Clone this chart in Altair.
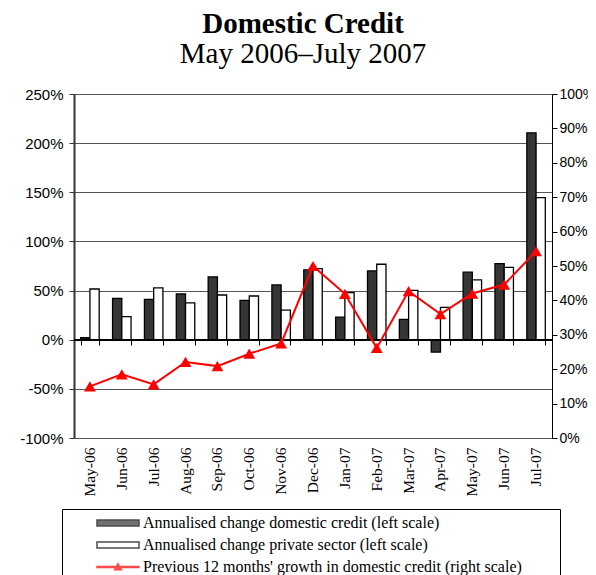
import altair as alt
import pandas as pd

months = ["May-06", "Jun-06", "Jul-06", "Aug-06", "Sep-06", "Oct-06", "Nov-06", "Dec-06",
          "Jan-07", "Feb-07", "Mar-07", "Apr-07", "May-07", "Jun-07", "Jul-07"]
dom_credit = [0.02, 0.42, 0.41, 0.465, 0.64, 0.40, 0.557, 0.71, 0.23, 0.70, 0.207, -0.126, 0.687, 0.775, 2.105]
priv_sector = [0.516, 0.235, 0.527, 0.374, 0.455, 0.445, 0.302, 0.724, 0.48, 0.768, 0.503, 0.33, 0.608, 0.735, 1.445]
growth_12m = [0.15, 0.185, 0.156, 0.221, 0.209, 0.245, 0.275, 0.50, 0.419, 0.262, 0.427, 0.36, 0.42, 0.446, 0.543]

S1 = "Annualised change domestic credit (left scale)"
S2 = "Annualised change private sector (left scale)"
S3 = "Previous 12 months' growth in domestic credit (right scale)"
series_names = [S1, S2, S3]

left_ticks = [-1.0, -0.5, 0.0, 0.5, 1.0, 1.5, 2.0, 2.5]
right_ticks = [0.0, 0.1, 0.2, 0.3, 0.4, 0.5, 0.6, 0.7, 0.8, 0.9, 1.0]

bars_df = pd.DataFrame({
    "month": months * 2,
    "series": [S1] * len(months) + [S2] * len(months),
    "value": dom_credit + priv_sector,
})
line_df = pd.DataFrame({"month": months, "growth": growth_12m})

SERIF = "Liberation Serif"
SANS = "Liberation Sans"

legend = alt.Legend(
    title=None, orient="none", legendX=-12, legendY=415,
    strokeColor="black", fillColor="white", padding=6, symbolOffset=42,
    labelFont=SERIF, labelFontSize=16, labelColor="black", labelLimit=700,
    labelExpr="datum.label + '\u00a0\u00a0\u00a0\u00a0\u00a0\u00a0\u00a0\u00a0\u200b'",
    symbolSize=196, symbolStrokeWidth=1.5, rowPadding=6, labelOffset=17,
)

fill_scale = alt.Scale(domain=series_names, range=["#363636", "white", "red"])
stroke_scale = alt.Scale(domain=series_names, range=["black", "black", "red"])
shape_scale = alt.Scale(
    domain=series_names,
    range=["M-3,-0.42H3V0.42H-3Z", "M-3,-0.42H3V0.42H-3Z",
           "M-3,-0.08H3V0.08H-3Z M-0.5,0.4L0,-0.45L0.5,0.4Z"],
)

x_bottom = alt.X(
    "month:N", sort=months,
    scale=alt.Scale(paddingInner=0.42, paddingOuter=0.21),
    axis=alt.Axis(title=None, labelAngle=-90, labelFont=SERIF, labelFontSize=15.5,
                  labelColor="black", ticks=False, domain=False, labelPadding=9, grid=False),
)
y_left = alt.Y(
    "value:Q", scale=alt.Scale(domain=[-1, 2.5], nice=False),
    axis=alt.Axis(values=left_ticks, format=".0%", title=None, grid=True, gridColor="#555",
                  gridWidth=1, domainColor="#333", domainWidth=2, tickColor="#333", tickSize=5,
                  labelFont=SANS, labelFontSize=15, labelColor="black", labelPadding=6,
                  labelExpr="replace(datum.label, '\u2212', '-')"),
)

bars = alt.Chart(bars_df).mark_bar(strokeWidth=1.3).encode(
    x=x_bottom,
    xOffset=alt.XOffset("series:N", scale=alt.Scale(domain=[S1, S2], paddingInner=0, paddingOuter=0)),
    y=y_left,
    fill=alt.Fill("series:N", scale=fill_scale, legend=legend),
    stroke=alt.Stroke("series:N", scale=stroke_scale, legend=legend),
)

zero_rule = alt.Chart(line_df).mark_rule(color="black", strokeWidth=1.5).encode(y=alt.datum(0))

legend_dummy = alt.Chart(bars_df).transform_filter("false").mark_point(filled=True).encode(
    fill=alt.Fill("series:N", scale=fill_scale, legend=legend),
    stroke=alt.Stroke("series:N", scale=stroke_scale, legend=legend),
    shape=alt.Shape("series:N", scale=shape_scale, legend=legend),
)

left = alt.layer(bars, zero_rule, legend_dummy)

x_zero = alt.X(
    "month:N", sort=months,
    scale=alt.Scale(paddingInner=0.42, paddingOuter=0.21),
    axis=alt.Axis(title=None, orient="bottom", offset=-98, labels=False, ticks=True,
                  tickBand="extent", domain=False, tickSize=5, tickColor="black", grid=False),
)
y_right = alt.Y(
    "growth:Q", scale=alt.Scale(domain=[0, 1], nice=False),
    axis=alt.Axis(orient="right", values=right_ticks, format=".0%", title=None, grid=False,
                  labelFont=SANS, labelFontSize=14, labelColor="black", domainColor="black",
                  tickColor="black", tickSize=5, labelPadding=2),
)

line = alt.Chart(line_df).mark_line(color="red", strokeWidth=2).encode(x=x_zero, y=y_right)
points = alt.Chart(line_df).mark_point(shape="triangle-up", filled=True, color="red",
                                       size=140, opacity=1).encode(x=x_zero, y=y_right)
right = alt.layer(line, points)

chart = alt.layer(left, right).resolve_scale(y="independent").resolve_axis(x="independent").properties(
    width=478, height=344,
    autosize=alt.AutoSizeParams(type="none"),
    padding={"left": 66, "top": 86, "right": 36, "bottom": 160},
    title=alt.TitleParams(
        text="Domestic Credit", subtitle="May 2006–July 2007",
        font=SERIF, fontSize=29, fontWeight="bold", color="black",
        subtitleFont=SERIF, subtitleFontSize=29, subtitleColor="black",
        subtitlePadding=1, anchor="middle", dx=-10, offset=18,
    ),
).configure_view(stroke=None)

chart.save("out.html", embed_options={"renderer": "svg", "actions": False})
